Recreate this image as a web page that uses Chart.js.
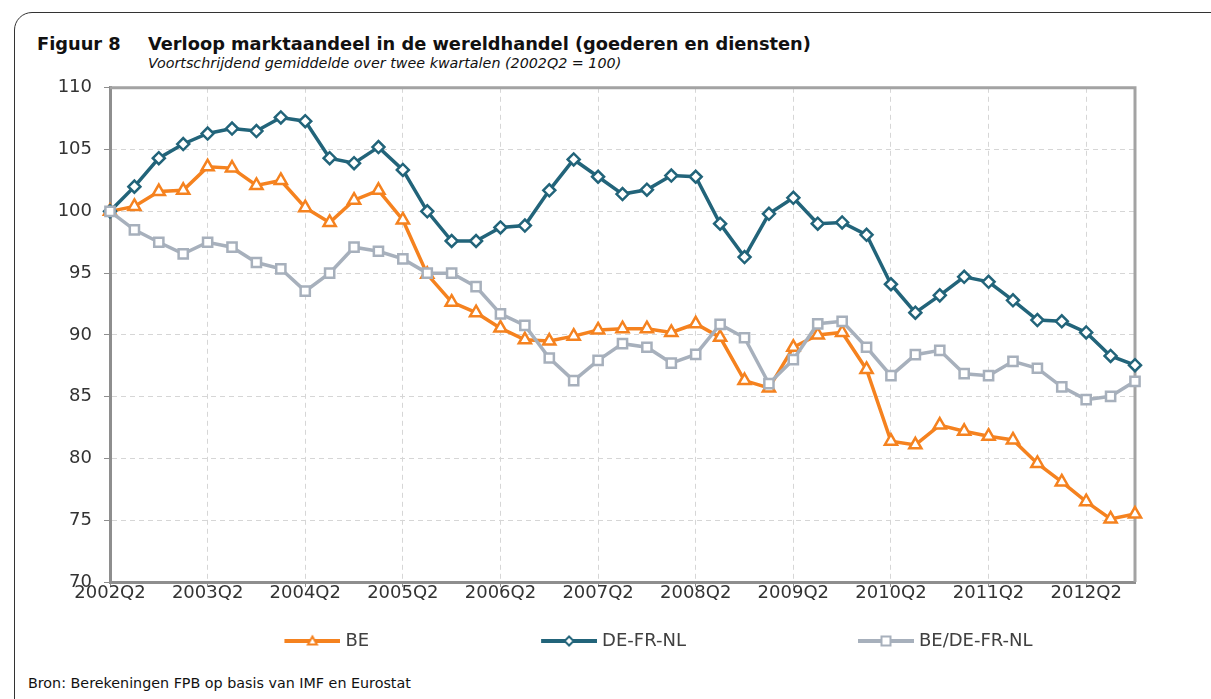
<!DOCTYPE html>
<html>
<head>
<meta charset="utf-8">
<script src="https://cdn.jsdelivr.net/npm/chart.js@4"></script>
<style>
  html, body { margin: 0; padding: 0; background: #fff; }
  body { width: 1211px; height: 699px; position: relative; overflow: hidden; font-family: "DejaVu Sans", sans-serif; color: #111; }
  #frame { position: absolute; left: 14px; top: 12px; width: 1260px; height: 800px; border: 1.5px solid #333; border-radius: 18px; }
  .t { position: absolute; white-space: nowrap; line-height: 1; }
  #fig { left: 37px; top: 35px; font-weight: bold; font-size: 17.8px; }
  #title { left: 148px; top: 35px; font-weight: bold; font-size: 17.8px; }
  #sub { left: 148px; top: 56px; font-style: italic; font-size: 14.3px; }
  #src { left: 28px; top: 676px; font-size: 14.3px; }
  #wrap { position: absolute; left: 20px; top: 65px; width: 1185px; height: 599px; }
</style>
</head>
<body>
<div id="frame"></div>
<div class="t" id="fig">Figuur 8</div>
<div class="t" id="title">Verloop marktaandeel in de wereldhandel (goederen en diensten)</div>
<div class="t" id="sub">Voortschrijdend gemiddelde over twee kwartalen (2002Q2 = 100)</div>
<div id="wrap"><canvas id="chart-canvas"></canvas></div>
<div class="t" id="src">Bron: Berekeningen FPB op basis van IMF en Eurostat</div>

<script>
const quarters = [
  '2002Q2', '2002Q3', '2002Q4', '2003Q1', '2003Q2', '2003Q3', '2003Q4', '2004Q1',
  '2004Q2', '2004Q3', '2004Q4', '2005Q1', '2005Q2', '2005Q3', '2005Q4', '2006Q1',
  '2006Q2', '2006Q3', '2006Q4', '2007Q1', '2007Q2', '2007Q3', '2007Q4', '2008Q1',
  '2008Q2', '2008Q3', '2008Q4', '2009Q1', '2009Q2', '2009Q3', '2009Q4', '2010Q1',
  '2010Q2', '2010Q3', '2010Q4', '2011Q1', '2011Q2', '2011Q3', '2011Q4', '2012Q1',
  '2012Q2', '2012Q3', '2012Q4'
];
const be = [
  100.0, 100.4, 101.6, 101.7, 103.6, 103.5, 102.1, 102.5, 100.3, 99.1, 100.9,
  101.7, 99.3, 94.9, 92.65, 91.8, 90.55, 89.6, 89.5, 89.9, 90.4, 90.5,
  90.5, 90.2, 90.9, 89.8, 86.3, 85.7, 89.0, 90.0, 90.2, 87.2, 81.4,
  81.1, 82.7, 82.2, 81.8, 81.5, 79.6, 78.1, 76.5, 75.1, 75.5
];
const deFrNl = [
  100.0, 102.0, 104.3, 105.45, 106.3, 106.7, 106.5, 107.6, 107.3, 104.3, 103.9,
  105.2, 103.35, 100.0, 97.6, 97.6, 98.7, 98.85, 101.7, 104.2, 102.8, 101.4,
  101.75, 102.9, 102.8, 99.0, 96.3, 99.8, 101.1, 99.0, 99.1, 98.1, 94.1,
  91.8, 93.2, 94.7, 94.3, 92.8, 91.2, 91.1, 90.2, 88.3, 87.55
];
const beRelative = [
  100.0, 98.5, 97.5, 96.56, 97.5, 97.1, 95.86, 95.35, 93.54, 95.0, 97.1,
  96.77, 96.15, 95.0, 95.0, 93.9, 91.7, 90.77, 88.13, 86.3, 87.94, 89.29,
  89.0, 87.72, 88.42, 90.85, 89.77, 86.05, 88.0, 90.9, 91.1, 89.0, 86.7,
  88.4, 88.75, 86.86, 86.7, 87.86, 87.3, 85.8, 84.76, 85.03, 86.24
];
const seriesNames = ['BE', 'DE-FR-NL', 'BE/DE-FR-NL'];
const yTicks = [70, 75, 80, 85, 90, 95, 100, 105, 110];

const ORANGE = '#F5821F';
const TEAL = '#22647A';
const GREY = '#A7B0BC';
const FONT = 'DejaVu Sans';

// legend swatch: line with a small marker, drawn at the right end of a wide image
const SWATCH_BOX = 214;
function legendSwatch(color, shape) {
  const c = document.createElement('canvas');
  c.width = SWATCH_BOX + 8;
  c.height = 16;
  const g = c.getContext('2d');
  const x1 = c.width - 56, x2 = c.width, cy = 8, cx = (x1 + x2) / 2, r = 4.5;
  g.strokeStyle = color;
  g.lineWidth = 4;
  g.beginPath(); g.moveTo(x1, cy); g.lineTo(x2, cy); g.stroke();
  g.fillStyle = '#fff';
  g.lineWidth = 2;
  g.beginPath();
  if (shape === 'triangle') {
    g.moveTo(cx, cy - r); g.lineTo(cx + r, cy + r * 0.8); g.lineTo(cx - r, cy + r * 0.8);
  } else if (shape === 'diamond') {
    g.moveTo(cx, cy - r); g.lineTo(cx + r, cy); g.lineTo(cx, cy + r); g.lineTo(cx - r, cy);
  } else {
    g.rect(cx - r, cy - r, r * 2, r * 2);
  }
  g.closePath();
  g.fill(); g.stroke();
  return c;
}

document.addEventListener('DOMContentLoaded', function() {
    const ctx = document.getElementById('chart-canvas');
    const swatches = [
        legendSwatch(ORANGE, 'triangle'),
        legendSwatch(TEAL, 'diamond'),
        legendSwatch(GREY, 'square')
    ];
    const isYear = i => quarters[i] && quarters[i].endsWith('Q2');

    // top and right edges of the plot box
    const frameBox = {
        id: 'frameBox',
        beforeDatasetsDraw(chart) {
            const a = chart.chartArea, g = chart.ctx;
            g.save();
            g.strokeStyle = '#A3A3A3';
            g.lineWidth = 3;
            g.beginPath();
            g.moveTo(a.left, a.top);
            g.lineTo(a.right, a.top);
            g.lineTo(a.right, a.bottom);
            g.stroke();
            g.restore();
        }
    };

    new Chart(ctx.getContext('2d'), {
        type: 'line',
        data: {
            labels: quarters,
            datasets: [{
                label: seriesNames[0],
                data: be,
                borderColor: ORANGE,
                borderWidth: 3.5,
                pointStyle: 'triangle',
                pointRadius: 7,
                pointBorderWidth: 2.5,
                pointBackgroundColor: '#fff',
                pointBorderColor: ORANGE,
                order: 3
            }, {
                label: seriesNames[1],
                data: deFrNl,
                borderColor: TEAL,
                borderWidth: 3.5,
                pointStyle: 'rectRot',
                pointRadius: 6,
                pointBorderWidth: 2.5,
                pointBackgroundColor: '#fff',
                pointBorderColor: TEAL,
                order: 2
            }, {
                label: seriesNames[2],
                data: beRelative,
                borderColor: GREY,
                borderWidth: 3.5,
                pointStyle: 'rect',
                pointRadius: 6.5,
                pointBorderWidth: 2.5,
                pointBackgroundColor: '#fff',
                pointBorderColor: GREY,
                order: 1
            }]
        },
        options: {
            responsive: true,
            maintainAspectRatio: false,
            animation: false,
            layout: { padding: { top: 0, right: 70, bottom: 4, left: 0 } },
            plugins: {
                tooltip: { enabled: false },
                legend: {
                    position: 'bottom',
                    labels: {
                        usePointStyle: true,
                        pointStyleWidth: SWATCH_BOX,
                        padding: 10,
                        color: '#404040',
                        font: { family: FONT, size: 18 },
                        generateLabels: chart => chart.data.datasets.map((ds, i) => ({
                            text: ds.label,
                            pointStyle: swatches[i],
                            datasetIndex: i,
                            hidden: !chart.isDatasetVisible(i),
                            lineWidth: 0,
                            fillStyle: 'transparent',
                            strokeStyle: 'transparent',
                            fontColor: '#404040'
                        }))
                    }
                }
            },
            scales: {
                x: {
                    offset: false,
                    afterFit: s => { s.height = 40; },
                    border: { color: '#8E8E8E', width: 3, dash: [5, 4] },
                    grid: {
                        color: c => isYear(c.index) ? '#D6D6D6' : 'transparent',
                        tickColor: c => isYear(c.index) ? '#8E8E8E' : 'transparent',
                        tickBorderDash: [],
                        tickLength: 5,
                        lineWidth: 1
                    },
                    ticks: {
                        autoSkip: false,
                        maxRotation: 0,
                        padding: -4,
                        color: '#333',
                        font: { family: FONT, size: 18 },
                        callback: function(value, index) {
                            return isYear(index) ? quarters[index] : '';
                        }
                    }
                },
                y: {
                    min: 70,
                    max: 110,
                    afterFit: s => { s.width = 90; },
                    afterBuildTicks: s => { s.ticks = yTicks.map(v => ({ value: v })); },
                    border: { color: '#8E8E8E', width: 3, dash: [5, 4] },
                    grid: {
                        color: '#D6D6D6',
                        tickColor: '#8E8E8E',
                        tickBorderDash: [],
                        tickLength: 6,
                        lineWidth: 1
                    },
                    ticks: {
                        padding: 12,
                        color: '#333',
                        font: { family: FONT, size: 18 }
                    }
                }
            }
        },
        plugins: [frameBox]
    });
});
</script>
</body>
</html>
